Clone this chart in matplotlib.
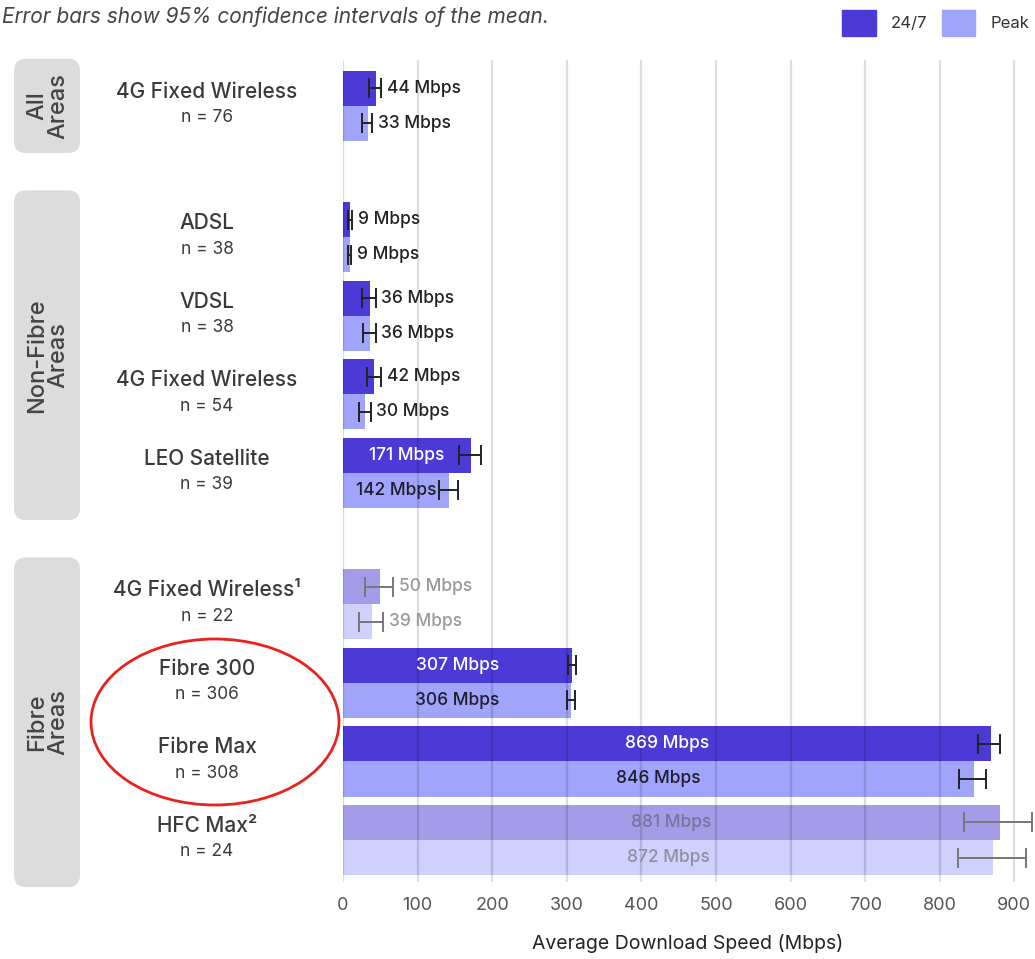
import matplotlib
matplotlib.use("Agg")
import matplotlib.pyplot as plt
import matplotlib.transforms as mtransforms
from matplotlib.patches import FancyBboxPatch, Ellipse, Patch
import numpy as np

plt.rcParams['font.family'] = ['Inter', 'DejaVu Sans']

# Data
groups = ['All\nAreas', 'Non-Fibre\nAreas', 'Fibre\nAreas']
group_of = [0, 1, 1, 1, 1, 2, 2, 2, 2]
categories = ['4G Fixed Wireless', 'ADSL', 'VDSL', '4G Fixed Wireless', 'LEO Satellite',
              '4G Fixed Wireless¹', 'Fibre 300', 'Fibre Max', 'HFC Max²']
n_values = [76, 38, 38, 54, 39, 22, 306, 308, 24]
speed_247 = [44, 9, 36, 42, 171, 50, 307, 869, 881]
speed_peak = [33, 9, 36, 30, 142, 39, 306, 846, 872]
ci_247_low = [35, 7, 26, 32, 156, 30, 302, 851, 832]
ci_247_high = [51, 12, 44, 51, 185, 67, 312, 881, 923]
ci_peak_low = [25, 7, 27, 22, 129, 22, 300, 826, 824]
ci_peak_high = [39, 11, 44, 37, 154, 54, 311, 862, 915]
low_sample = [False, False, False, False, False, True, False, False, True]
x_ticks = [0, 100, 200, 300, 400, 500, 600, 700, 800, 900]

col_247 = '#4B3AD5'
col_peak = '#A0A4FA'

# category positions: one unit per category, extra gap between groups
group_gap = 0.675
ypos = []
y = 0.0
for i, g in enumerate(group_of):
    if i > 0:
        y += 1.0 + (group_gap if g != group_of[i - 1] else 0.0)
    ypos.append(y)
ypos = np.array(ypos)
bh = 0.446

W, H = 1035, 959
fig = plt.figure(figsize=(W / 100, H / 100), dpi=100)
ax = fig.add_axes([343 / W, 1 - 882 / H, (1033 - 343) / W, (882 - 60) / H])

ax.set_xlim(0, 925)
ax.set_ylim(ypos[-1] + 0.535, ypos[0] - 0.585)

for i in range(len(categories)):
    a = 0.5 if low_sample[i] else 1.0
    ecol = '#777777' if low_sample[i] else '#222222'
    for val, lo, hi, col, off, inner_col in [
            (speed_247[i], ci_247_low[i], ci_247_high[i], col_247, -bh / 2, 'white'),
            (speed_peak[i], ci_peak_low[i], ci_peak_high[i], col_peak, bh / 2, '#1d1d2b')]:
        yy = ypos[i] + off
        ax.barh(yy, val, height=bh, color=col, alpha=a, zorder=2)
        ax.errorbar(val, yy, xerr=[[val - lo], [hi - val]], fmt='none', ecolor=ecol,
                    elinewidth=1.4, capsize=7.5, capthick=1.4, zorder=4)
        txt = f'{val} Mbps'
        if val > 100:
            tc = inner_col
            if low_sample[i]:
                tc = '#77739c' if off < 0 else '#8e8e9c'
            ax.text(val / 2, yy, txt, ha='center', va='center', fontsize=12.5,
                    fontweight='medium', color=tc, zorder=5)
        else:
            tc = '#999999' if low_sample[i] else '#222222'
            ax.annotate(txt, (hi, yy), xytext=(4, 0), textcoords='offset points',
                        ha='left', va='center', fontsize=12.5, fontweight='medium',
                        color=tc, zorder=5)

# gridlines drawn semi-transparent over the bars
for xt in x_ticks:
    ax.axvline(xt, color='black', alpha=0.13, lw=1.6, zorder=3)

for s in ax.spines.values():
    s.set_visible(False)
ax.set_yticks([])
ax.set_xticks(x_ticks)
ax.tick_params(axis='x', length=0, pad=11, labelsize=13, labelcolor='#555555')
ax.set_xlabel('Average Download Speed (Mbps)', fontsize=14, color='#222222', labelpad=14)

# category labels on the left
trans = mtransforms.blended_transform_factory(fig.transFigure, ax.transData)
for i, cat in enumerate(categories):
    ax.text(207 / W, ypos[i] - 0.18, cat, transform=trans, ha='center', va='center',
            fontsize=15, fontweight='medium', color='#3a3a3a')
    ax.text(207 / W, ypos[i] + 0.15, f'n = {n_values[i]}', transform=trans,
            ha='center', va='center', fontsize=12.5, color='#3a3a3a')

# grey group boxes
fig.canvas.draw()
to_fig = fig.transFigure.inverted()
for g, name in enumerate(groups):
    idx = [i for i, gg in enumerate(group_of) if gg == g]
    top = to_fig.transform(ax.transData.transform((0, ypos[idx[0]] - 0.6)))[1]
    bot = to_fig.transform(ax.transData.transform((0, ypos[idx[-1]] + 0.6)))[1]
    box = FancyBboxPatch((14 / W, bot), 66 / W, top - bot,
                         boxstyle=f'round,pad=0,rounding_size={12 / W}',
                         mutation_aspect=W / H, transform=fig.transFigure,
                         fc='#dcdcdc', ec='none')
    fig.add_artist(box)
    fig.text(48 / W, (top + bot) / 2, name, rotation=90, ha='center', va='center',
             fontsize=17, fontweight='medium', color='#444444', linespacing=0.95)

# red highlight ellipse
fig.add_artist(Ellipse((215 / W, 1 - 722 / H), 248 / W, 166 / H, transform=fig.transFigure,
                       fill=False, ec='#e8231d', lw=2))

fig.text(2 / W, 1 - 17 / H, 'Error bars show 95% confidence intervals of the mean.',
         fontsize=15, style='italic', color='#444444', ha='left', va='center')

handles = [Patch(color=col_247, label='24/7'), Patch(color=col_peak, label='Peak')]
fig.legend(handles=handles, loc='upper right', bbox_to_anchor=(1.009, 1.005), ncol=2,
           frameon=False, fontsize=12, handlelength=2.0, handleheight=2.0,
           handletextpad=0.9, columnspacing=0.9, labelcolor='#333333')

fig.savefig('out.png', dpi=100)
